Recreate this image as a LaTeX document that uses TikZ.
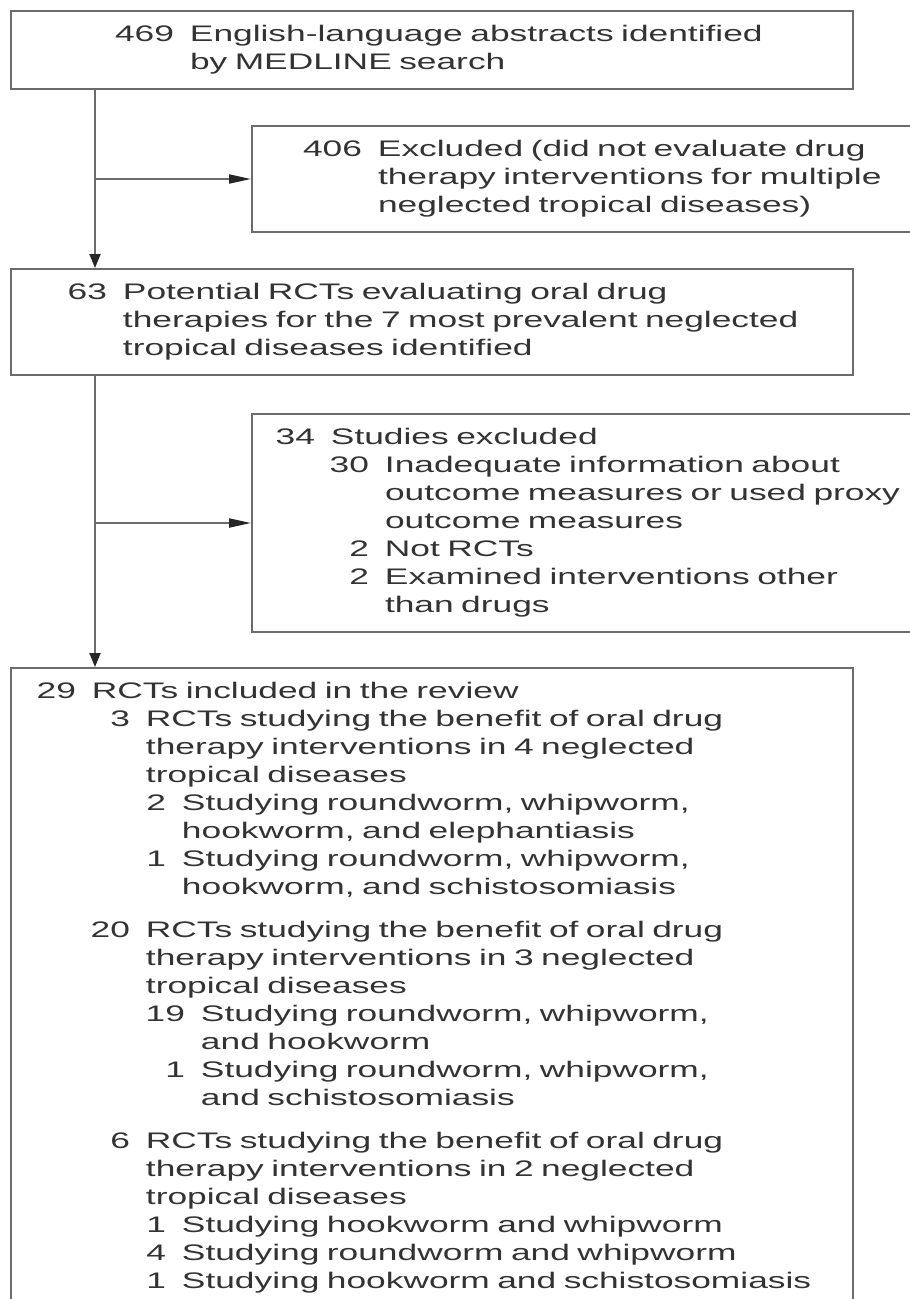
\documentclass[tikz,border=0pt]{standalone}
\usepackage{fontspec}
\setmainfont{Liberation Sans}[FakeStretch=1.57]
\usepackage{tikz}
\usetikzlibrary{arrows.meta}

% numbered first line and its continuation lines
\newcommand{\itm}[3]{\strut\hspace*{\dimexpr #1pt-16pt\relax}\llap{#2}\hspace*{16pt}\mbox{#3}}
\newcommand{\cnt}[2]{\strut\hspace*{#1pt}\mbox{#2}}

\begin{document}
\begin{tikzpicture}[x=1pt,y=-1pt,
    box/.style={draw=black!58,line width=2pt,anchor=north west,inner xsep=0pt,inner ysep=11pt,
      align=left,font=\fontsize{22.5}{28}\selectfont,text=black!80},
    wide/.style={box,text width=842pt},
    side/.style={box,text width=664pt},
    flowdown/.style={draw=black!58,line width=2pt,-{Triangle[length=14pt,width=11pt,color=black!85]}},
    flowright/.style={draw=black!58,line width=2pt,-{Triangle[length=22pt,width=9pt,color=black!85]}}]
    \useasboundingbox (0,0) rectangle (910,1299);
    \node[wide,minimum height=73pt] (abstr) at (10,10) {%
      \itm{179}{469}{English-language abstracts identified}\\
      \cnt{179}{by MEDLINE search}};
    \node[side,minimum height=102pt] (excl) at (251,125) {%
      \itm{126}{406}{Excluded (did not evaluate drug}\\
      \cnt{126}{therapy interventions for multiple}\\
      \cnt{126}{neglected tropical diseases)}};
    \node[wide,minimum height=102pt] (pot) at (10,268) {%
      \itm{112}{63}{Potential RCTs evaluating oral drug}\\
      \cnt{112}{therapies for the 7 most prevalent neglected}\\
      \cnt{112}{tropical diseases identified}};
    \node[side,minimum height=213pt] (studx) at (251,413) {%
      \itm{79}{34}{Studies excluded}\\
      \itm{133}{30}{Inadequate information about}\\
      \cnt{133}{outcome measures or used proxy}\\
      \cnt{133}{outcome measures}\\
      \itm{133}{2}{Not RCTs}\\
      \itm{133}{2}{Examined interventions other}\\
      \cnt{133}{than drugs}};
    \node[wide] (incl) at (10,667) {%
      \itm{81}{29}{RCTs included in the review}\\
      \itm{135}{3}{RCTs studying the benefit of oral drug}\\
      \cnt{135}{therapy interventions in 4 neglected}\\
      \cnt{135}{tropical diseases}\\
      \itm{171}{2}{Studying roundworm, whipworm,}\\
      \cnt{171}{hookworm, and elephantiasis}\\
      \itm{171}{1}{Studying roundworm, whipworm,}\\
      \cnt{171}{hookworm, and schistosomiasis}\\[15pt]
      \itm{135}{20}{RCTs studying the benefit of oral drug}\\
      \cnt{135}{therapy interventions in 3 neglected}\\
      \cnt{135}{tropical diseases}\\
      \itm{190}{19}{Studying roundworm, whipworm,}\\
      \cnt{190}{and hookworm}\\
      \itm{190}{1}{Studying roundworm, whipworm,}\\
      \cnt{190}{and schistosomiasis}\\[15pt]
      \itm{135}{6}{RCTs studying the benefit of oral drug}\\
      \cnt{135}{therapy interventions in 2 neglected}\\
      \cnt{135}{tropical diseases}\\
      \itm{171}{1}{Studying hookworm and whipworm}\\
      \itm{171}{4}{Studying roundworm and whipworm}\\
      \itm{171}{1}{Studying hookworm and schistosomiasis}};
    \coordinate (spine) at (95,0);
    \draw[flowdown] (abstr.south -| spine) -- (pot.north -| spine);
    \draw[flowright] (excl.west -| spine) -- (excl.west);
    \draw[flowdown] (pot.south -| spine) -- (incl.north -| spine);
    \draw[flowright] (studx.west -| spine) -- (studx.west);
\end{tikzpicture}
\end{document}
